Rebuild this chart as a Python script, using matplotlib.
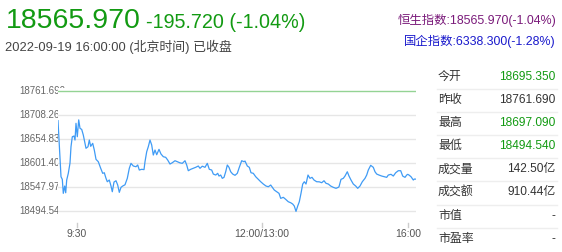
# -*- coding: utf-8 -*-

import matplotlib
matplotlib.use('Agg')
import matplotlib.pyplot as plt
import matplotlib.transforms as mtransforms

plt.rcParams['font.family'] = ['Liberation Sans', 'Noto Sans CJK SC']

# header
last_price = '18565.970'
change_text = '-195.720 (-1.04%)'
status_text = '2022-09-19 16:00:00 (北京时间) 已收盘'
index_lines = ['恒生指数:18565.970(-1.04%)', '国企指数:6338.300(-1.28%)']

# intraday series, x in chart minutes
t_min = [0, 3, 4.3, 5.3, 6.7, 7.7, 8.7, 10.3, 12, 13, 14.3, 16, 17, 18, 19.3,
         20.7, 22, 23.7, 25.3, 28, 30, 31.3, 32.7, 34.7, 36.3, 38, 40.3, 42.7,
         44.7, 46.3, 48, 49.3, 51.3, 53, 54.3, 56, 58, 59.7, 61.3, 63, 64.7, 67,
         69.3, 71.3, 73, 75.3, 78, 79.7, 81.3, 83.7, 86, 87, 88.7, 90.3, 92,
         93.7, 95.3, 97, 98.7, 101, 103, 105.3, 107.7, 109.7, 112, 114.3, 117,
         119.3, 122, 124.3, 127, 128.7, 130.3, 132.7, 135.3, 137.7, 140.3, 142,
         144.3, 147, 149.3, 151.3, 153.7, 155.3, 157.7, 159.7, 161, 162.7, 164.3,
         166, 167.7, 169.3, 171, 172.7, 174.7, 177, 179.3, 181.3, 183.7, 186,
         187, 189.3, 191.3, 193, 195.3, 197.7, 200.3, 202.7, 205.3, 208, 210.3,
         212.7, 214.3, 216.3, 218.7, 221, 222.7, 225.3, 227.7, 230.3, 232.7,
         234.7, 236.3, 238, 239.7, 241.3, 243, 244.7, 246.3, 248, 250, 252, 254,
         256, 258.7, 261.3, 263.7, 266, 268, 270.3, 272.7, 275.3, 278, 280.3,
         281, 283, 285.3, 287, 289.3, 291, 293, 295.3, 297.7, 299.7, 302, 304.3,
         307, 308.7, 310.3, 312.7, 315.3, 317, 318.7, 321, 323.7, 326.3, 328.7,
         330.3, 333, 335.3, 337.7, 340.3, 342.7, 344.7, 347, 348.7, 349.7, 351,
         353, 355.3, 356.3, 358]
index_pts = [18695.35, 18571.3, 18565.5, 18534.5, 18550.7, 18535.8, 18564.0,
             18578.8, 18601.6, 18637.7, 18659.8, 18661.4, 18652.5, 18689.5,
             18659.8, 18697.09, 18678.4, 18676.0, 18663.6, 18634.2, 18637.7,
             18652.5, 18638.5, 18645.2, 18630.4, 18609.8, 18604.5, 18589.9,
             18578.8, 18580.1, 18567.7, 18560.2, 18564.0, 18550.7, 18538.1,
             18559.5, 18562.4, 18552.9, 18536.7, 18547.8, 18550.7, 18553.5,
             18567.7, 18589.9, 18600.9, 18595.0, 18593.4, 18597.2, 18586.1,
             18587.7, 18587.0, 18604.5, 18626.6, 18637.7, 18652.5, 18641.5,
             18619.3, 18630.4, 18620.0, 18631.9, 18621.5, 18615.6, 18614.2,
             18608.2, 18599.4, 18602.3, 18606.7, 18604.5, 18602.0, 18600.9,
             18606.7, 18597.2, 18584.6, 18587.7, 18589.9, 18592.1, 18595.0,
             18589.9, 18594.6, 18592.1, 18600.9, 18587.7, 18586.1, 18577.2,
             18575.0, 18578.8, 18572.8, 18575.0, 18567.7, 18569.9, 18582.3,
             18597.2, 18592.1, 18582.3, 18577.2, 18574.4, 18578.8, 18592.1,
             18606.7, 18604.5, 18606.0, 18595.0, 18592.1, 18580.1, 18578.8,
             18571.3, 18565.5, 18560.2, 18555.1, 18550.7, 18549.1, 18552.9,
             18547.8, 18541.8, 18538.1, 18534.5, 18523.4, 18525.7, 18521.2,
             18515.9, 18513.7, 18510.8, 18506.4, 18494.54, 18506.4, 18515.9,
             18534.5, 18555.1, 18560.2, 18555.1, 18575.0, 18567.7, 18569.9,
             18564.0, 18560.2, 18560.0, 18558.0, 18562.4, 18556.7, 18555.1,
             18550.7, 18547.8, 18545.6, 18547.8, 18549.1, 18565.5, 18567.7,
             18572.8, 18582.3, 18572.8, 18564.0, 18555.1, 18550.7, 18545.6,
             18550.7, 18560.2, 18567.7, 18575.0, 18586.1, 18596.5, 18592.1,
             18582.3, 18577.2, 18575.0, 18572.8, 18571.3, 18569.9, 18575.0,
             18576.6, 18572.8, 18580.1, 18584.6, 18584.6, 18572.8, 18569.9,
             18575.0, 18576.6, 18575.0, 18571.3, 18564.0, 18566.1, 18565.97]

prev_close = 18761.69
y_levels = [18761.690, 18708.260, 18654.830, 18601.400, 18547.970, 18494.540]
x_tick_min = [19, 204, 350]
x_tick_labels = ['9:30', '12:00/13:00', '16:00']

# quote table
row_labels = ['今开', '昨收', '最高', '最低', '成交量', '成交额', '市值', '市盈率']
row_values = ['18695.350', '18761.690', '18697.090', '18494.540',
              '142.50亿', '910.44亿', '-', '-']
row_up = [True, False, True, True, False, False, False, False]

green = '#129a12'
dark = '#333333'
W, H = 562, 252

fig = plt.figure(figsize=(W / 100, H / 100), dpi=100)

def fx(px):
    return px / W

def fy(py):
    return 1 - py / H

ax = fig.add_axes([fx(58), fy(214), fx(416) - fx(58), fy(88) - fy(214)])
ax.set_xlim(0, 358)
ax.set_ylim(18488.78, 18767.67)
for s in ax.spines.values():
    s.set_visible(False)
ax.set_xticks([])
ax.set_yticks([])

for lv in y_levels[1:]:
    ax.axhline(lv, color='#e6e6e6', lw=1, zorder=1)
ax.axhline(prev_close, color='#94d394', lw=1, zorder=2)
ax.plot(t_min, index_pts, color='#3f9bf5', lw=0.9, zorder=3)

# y labels, partly hidden behind the plot area
ytr = mtransforms.blended_transform_factory(fig.transFigure, ax.transData)
for lv in y_levels:
    fig.text(fx(19), lv, '%.3f' % lv, transform=ytr, ha='left', va='center',
             fontsize=7, color='#666666', zorder=-1)

# x ticks sit below the plot area
xtr = mtransforms.blended_transform_factory(ax.transData, fig.transFigure)
for t, lab in zip(x_tick_min, x_tick_labels):
    ax.plot([t, t], [fy(222.5), fy(226.5)], transform=xtr, color='#cccccc',
            lw=1, clip_on=False)
    ax.text(t, fy(234), lab, transform=xtr, ha='center', va='center',
            fontsize=7.5, color='#555555')

# header
fig.text(fx(6), fy(28), last_price, fontsize=20.5, color=green, va='baseline')
fig.text(fx(146), fy(28), change_text, fontsize=14.2, color=green, va='baseline')
fig.text(fx(5), fy(46.5), status_text, fontsize=9.3, color='#444444', va='center')
fig.text(fx(556), fy(20.5), index_lines[0], fontsize=8.9, color='#7a1a7a',
         ha='right', va='center')
fig.text(fx(556), fy(41.5), index_lines[1], fontsize=8.9, color='#1a1acc',
         ha='right', va='center')

# table
for i, (lab, val, up) in enumerate(zip(row_labels, row_values, row_up)):
    yc = 77 + 23.1 * i
    fig.text(fx(438), fy(yc), lab, fontsize=8.6, color=dark, va='center')
    fig.text(fx(555.5), fy(yc), val, fontsize=8.6, color=green if up else dark,
             ha='right', va='center')
    if i < len(row_labels) - 1:
        fig.add_artist(plt.Line2D([fx(437), fx(557)], [fy(yc + 12), fy(yc + 12)],
                                  color='#eeeeee', lw=1, transform=fig.transFigure))

fig.savefig('out.png', dpi=100)
